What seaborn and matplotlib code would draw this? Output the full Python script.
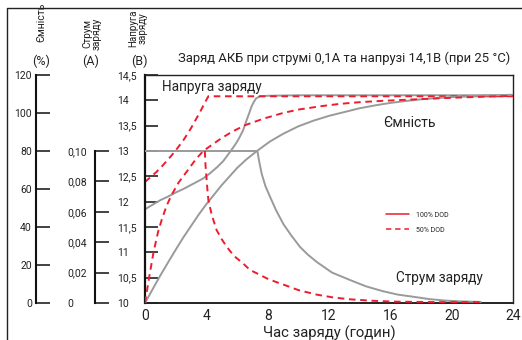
import matplotlib
matplotlib.use("Agg")
import matplotlib.pyplot as plt
from matplotlib.lines import Line2D
import seaborn as sns

# ---------------- data ----------------
# 100% DOD (gray)
hours_v100 = [0, 0.5, 1, 1.5, 2, 2.5, 3, 3.5, 3.8, 4.2, 4.7, 5.1, 5.54, 5.8, 6.0, 6.2, 6.4,
              6.63, 6.8, 6.95, 7.1, 7.25, 7.5, 8, 10, 14, 18, 24]
volt_v100 = [11.85, 11.94, 12.03, 12.1, 12.18, 12.25, 12.33, 12.41, 12.46, 12.55, 12.68, 12.8,
             12.98, 13.09, 13.18, 13.29, 13.41, 13.61, 13.75, 13.88, 13.97, 14.04, 14.08, 14.09,
             14.1, 14.1, 14.1, 14.1]

hours_c100 = [0, 0.5, 1, 1.5, 2, 2.5, 3, 3.5, 4, 4.5, 5, 5.5, 6, 6.6, 7.3, 8.15, 9, 10, 11, 12,
              13, 14, 15, 16, 17, 18, 19.3, 21, 22.5, 24]
cap_c100 = [0, 7.3, 14.5, 21.3, 28, 34.5, 40.5, 46.5, 52, 57, 62, 66.5, 71, 75.5, 80, 85, 89, 93,
            96, 98.5, 100.5, 102.5, 104, 105.3, 106.3, 107.2, 108, 108.8, 109.3, 109.6]

hours_i100 = [0, 7.33, 7.45, 7.61, 7.85, 8.15, 8.55, 9.02, 9.5, 10.1, 10.6, 11.2, 12.2, 13.4,
              14.4, 15.5, 16.5, 17.5, 18.6, 19.7, 20.8, 21.9]
amp_i100 = [0.1, 0.1, 0.093, 0.085, 0.077, 0.070, 0.061, 0.052, 0.045, 0.037, 0.032, 0.027, 0.020,
            0.015, 0.011, 0.0078, 0.0055, 0.0041, 0.0025, 0.0015, 0.001, 0.0007]

# 50% DOD (red dashed)
hours_v50 = [0, 0.76, 1.2, 1.7, 2.1, 2.5, 3.0, 3.59, 3.9, 4.13, 8, 12, 16, 20, 24]
volt_v50 = [12.39, 12.59, 12.73, 12.9, 13.05, 13.21, 13.45, 13.77, 13.95, 14.08, 14.08, 14.08,
            14.08, 14.08, 14.08]

hours_c50 = [0, 0.13, 0.26, 0.4, 0.54, 0.7, 0.87, 1.1, 1.4, 1.74, 2.2, 2.8, 3.3, 3.8, 4.5, 5.0,
             5.65, 6.5, 7.72, 9, 10, 11.5, 12.7, 14, 15.5, 17.1, 19, 21, 24]
cap_c50 = [0, 6.5, 13, 19.5, 26, 32, 38, 44, 51, 57, 63.5, 70, 75.5, 80, 84, 86.8, 90, 93.5, 97,
           100, 101.8, 103.6, 104.8, 105.7, 106.4, 107, 107.7, 108.3, 109]

hours_i50 = [3.9, 3.95, 4.05, 4.13, 4.35, 4.67, 5.0, 5.33, 5.8, 6.4, 6.85, 7.4, 7.94, 8.5, 9.0,
             10, 11.2, 12.3, 13.4, 14.8, 16.2, 19, 22]
amp_i50 = [0.1, 0.09, 0.077, 0.068, 0.058, 0.048, 0.042, 0.037, 0.031, 0.026, 0.0217, 0.019,
           0.0162, 0.014, 0.0122, 0.0085, 0.0055, 0.0036, 0.0024, 0.0015, 0.0009, 0.0006, 0.0006]

x_ticks = [0, 4, 8, 12, 16, 20, 24]
volt_ticks = [10, 10.5, 11, 11.5, 12, 12.5, 13, 13.5, 14, 14.5]
volt_labels = ["10", "10,5", "11", "11,5", "12", "12,5", "13", "13,5", "14", "14,5"]
cap_ticks = [0, 20, 40, 60, 80, 100, 120]
cap_labels = ["0", "20", "40", "60", "80", "100", "120"]
amp_ticks = [0, 0.02, 0.04, 0.06, 0.08, 0.10]
amp_labels = ["0", "0,02", "0,04", "0,06", "0,08", "0,10"]

title = "Заряд АКБ при струмі 0,1А та напрузі 14,1В (при 25 °C)"
xlabel = "Час заряду (годин)"
legend_labels = ["100% DOD", "50% DOD"]

# ---------------- style ----------------
sns.set_style("white")
plt.rcParams["font.family"] = ["Roboto", "DejaVu Sans"]

GRAY = "#9a9a9a"
RED = "#ee1c2e"
TXT = "#222222"
W, H = 522, 340

fig = plt.figure(figsize=(W / 100, H / 100), dpi=100)

def fx(px):
    return px / W

def fy(py):
    return 1 - py / H

ax_l, ax_r, ax_t, ax_b = 145, 513, 75, 303
ax = fig.add_axes([fx(ax_l), fy(ax_b), (ax_r - ax_l) / W, (ax_b - ax_t) / H])
ax.set_xlim(0, 24)
ax.set_ylim(10, 14.5)

ax_cap = ax.twinx()
ax_cap.set_ylim(0, 120)
ax_cap.axis("off")
ax_cur = ax.twinx()
ax_cur.set_ylim(0, 0.15)
ax_cur.axis("off")

lw = 1.4
dash = (0, (3.4, 2.4))

sns.lineplot(x=hours_v100, y=volt_v100, ax=ax, color=GRAY, lw=lw)
sns.lineplot(x=hours_v50, y=volt_v50, ax=ax, color=RED, lw=lw, linestyle=dash)
sns.lineplot(x=hours_c100, y=cap_c100, ax=ax_cap, color=GRAY, lw=lw)
sns.lineplot(x=hours_c50, y=cap_c50, ax=ax_cap, color=RED, lw=lw, linestyle=dash)
sns.lineplot(x=hours_i100, y=amp_i100, ax=ax_cur, color=GRAY, lw=lw)
sns.lineplot(x=hours_i50, y=amp_i50, ax=ax_cur, color=RED, lw=lw, linestyle=dash)

# main axes styling
for s in ["top", "right"]:
    ax.spines[s].set_linewidth(1.0)
    ax.spines[s].set_color(TXT)
ax.spines["left"].set_linewidth(1.6)
ax.spines["left"].set_color("#111111")
ax.spines["bottom"].set_linewidth(1.4)
ax.spines["bottom"].set_color(TXT)
ax.set_xticks(x_ticks)
ax.set_xticklabels([str(t) for t in x_ticks])
ax.tick_params(axis="x", bottom=True, length=0, pad=4, labelsize=10, colors=TXT)
ax.set_yticks(volt_ticks)
ax.set_yticklabels(volt_labels)
ax.tick_params(axis="y", left=True, direction="in", length=9.5, width=1.2, pad=20,
               labelsize=7.5, colors=TXT)
for lab in ax.get_yticklabels():
    lab.set_horizontalalignment("left")
ax.set_xlabel(xlabel, fontsize=10.7, labelpad=2, color=TXT)

ax.text(1.1, 14.26, "Напруга заряду", fontsize=9.8, va="center", ha="left", color=TXT)
ax.text(15.5, 13.55, "Ємність", fontsize=10, va="center", ha="left", color=TXT)
ax.text(16.4, 10.49, "Струм заряду", fontsize=9.8, va="center", ha="left", color=TXT)

handles = [Line2D([], [], color=RED, lw=1.1),
           Line2D([], [], color=RED, lw=1.1, linestyle=(0, (3.5, 2.5)))]
ax.legend(handles, legend_labels, loc="center left", bbox_to_anchor=(0.655, 0.352),
          frameon=False, fontsize=5, handlelength=3.3, handletextpad=1.0,
          labelspacing=1.1, borderpad=0, borderaxespad=0)

fig.text(fx(344), fy(58), title, fontsize=9.4, ha="center", va="center", color=TXT)

# capacity scale axis
ax2 = fig.add_axes([fx(36), fy(ax_b), 0.002, (ax_b - ax_t) / H])
ax2.set_ylim(0, 120)
ax2.set_xticks([])
for s in ["top", "right", "bottom"]:
    ax2.spines[s].set_visible(False)
ax2.spines["left"].set_linewidth(1.5)
ax2.spines["left"].set_color("#111111")
ax2.set_yticks(cap_ticks)
ax2.set_yticklabels(cap_labels)
ax2.tick_params(axis="y", left=True, direction="in", length=10, width=1.2, pad=3,
                labelsize=7.5, colors=TXT)
ax2.patch.set_alpha(0)

# current scale axis
ax3 = fig.add_axes([fx(95), fy(ax_b), 0.002, (ax_b - ax_t) / H])
ax3.set_ylim(0, 0.15)
ax3.set_xticks([])
for s in ["top", "right", "bottom"]:
    ax3.spines[s].set_visible(False)
ax3.spines["left"].set_bounds(0, 0.10)
ax3.spines["left"].set_linewidth(1.5)
ax3.spines["left"].set_color("#111111")
ax3.set_yticks(amp_ticks)
ax3.set_yticklabels(amp_labels)
ax3.tick_params(axis="y", left=True, direction="in", length=10, width=1.2, pad=28 * 0.72,
                labelsize=7.5, colors=TXT)
for lab in ax3.get_yticklabels():
    lab.set_horizontalalignment("left")
ax3.patch.set_alpha(0)

# header labels
fig.text(fx(41), fy(42), "Ємність", rotation=90, fontsize=7.6, ha="center", va="bottom", color=TXT)
fig.text(fx(41), fy(61), "(%)", fontsize=9, ha="center", va="center", color=TXT)
fig.text(fx(92), fy(50), "Струм\nзаряду", rotation=90, fontsize=7.2, ha="center", va="bottom",
         linespacing=0.85, color=TXT)
fig.text(fx(91), fy(61), "(A)", fontsize=9, ha="center", va="center", color=TXT)
fig.text(fx(138), fy(47), "Напруга\nзаряду", rotation=90, fontsize=7.0, ha="center", va="bottom",
         linespacing=0.85, color=TXT)
fig.text(fx(139), fy(61), "(B)", fontsize=9, ha="center", va="center", color=TXT)

# outer frame (top & left)
fig.add_artist(Line2D([fx(7), fx(7), 1], [0, fy(8), fy(8)], transform=fig.transFigure,
                      color=TXT, lw=1.0))

fig.savefig("out.png", dpi=100)
